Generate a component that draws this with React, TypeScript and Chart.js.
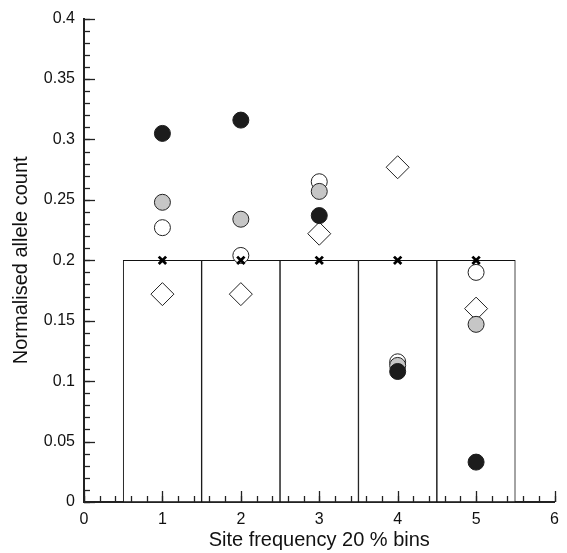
import { useEffect, useRef } from 'react';
import { Chart, registerables } from 'chart.js';

Chart.register(...registerables);

const bins = [1, 2, 3, 4, 5];
const binHeights = [0.2, 0.2, 0.2, 0.2, 0.2];
const expectedValues = [0.2, 0.2, 0.2, 0.2, 0.2];
const blackSeries = [0.305, 0.316, 0.237, 0.108, 0.033];
const greySeries = [0.248, 0.234, 0.257, 0.113, 0.147];
const openSeries = [0.227, 0.204, 0.265, 0.116, 0.19];
const diamondSeries = [0.172, 0.172, 0.222, 0.277, 0.16];
const xTickValues = [0, 1, 2, 3, 4, 5, 6];
const yTickValues = [0, 0.05, 0.1, 0.15, 0.2, 0.25, 0.3, 0.35, 0.4];
const yTickLabels = ['0', '0.05', '0.1', '0.15', '0.2', '0.25', '0.3', '0.35', '0.4'];
const xMinorStep = 0.2;
const yMinorStep = 0.01;

const toPoints = (vals: number[]) => bins.map((b, i) => ({ x: b, y: vals[i] }));

const FONT = "'Liberation Sans', Arial, Helvetica, sans-serif";
const AXIS = '#222';

const innerTicks = {
  id: 'innerTicks',
  afterDatasetsDraw(chart: any) {
    const { ctx, chartArea, scales } = chart;
    const x = scales.x;
    const y = scales.y;
    ctx.save();
    ctx.strokeStyle = AXIS;
    ctx.lineWidth = 1.3;
    const vline = (v: number, len: number) => {
      const px = Math.round(x.getPixelForValue(v)) + 0.5;
      ctx.beginPath();
      ctx.moveTo(px, chartArea.bottom);
      ctx.lineTo(px, chartArea.bottom - len);
      ctx.stroke();
    };
    const hline = (v: number, len: number) => {
      const py = Math.round(y.getPixelForValue(v)) + 0.5;
      ctx.beginPath();
      ctx.moveTo(chartArea.left, py);
      ctx.lineTo(chartArea.left + len, py);
      ctx.stroke();
    };
    const xMin = xTickValues[0];
    const xMax = xTickValues[xTickValues.length - 1];
    const nx = Math.round((xMax - xMin) / xMinorStep);
    for (let i = 0; i <= nx; i++) vline(xMin + i * xMinorStep, 6);
    xTickValues.forEach((v) => vline(v, 11));
    const yMin = yTickValues[0];
    const yMax = yTickValues[yTickValues.length - 1];
    const ny = Math.round((yMax - yMin) / yMinorStep);
    for (let i = 0; i <= ny; i++) hline(yMin + i * yMinorStep, 6);
    yTickValues.forEach((v) => hline(v, 11));
    ctx.restore();
  },
};

export default function App() {
  const ref = useRef<HTMLCanvasElement>(null);
  useEffect(() => {
    document.body.style.margin = '0';
    const canvas = ref.current;
    if (!canvas) return;
    const chart = new Chart(canvas, {
      type: 'scatter',
      data: {
        datasets: [
          {
            type: 'scatter',
            data: toPoints(expectedValues),
            pointStyle: 'crossRot',
            pointRadius: 5.2,
            borderColor: '#000',
            borderWidth: 2.8,
            order: 0,
          } as any,
          {
            type: 'scatter',
            data: toPoints(blackSeries),
            pointStyle: 'circle',
            pointRadius: 8,
            backgroundColor: '#1c1c1c',
            borderColor: '#1c1c1c',
            borderWidth: 1,
            order: 1,
          },
          {
            type: 'scatter',
            data: toPoints(greySeries),
            pointStyle: 'circle',
            pointRadius: 8,
            backgroundColor: '#c6c6c6',
            borderColor: '#222',
            borderWidth: 1,
            order: 2,
          },
          {
            type: 'scatter',
            data: toPoints(openSeries),
            pointStyle: 'circle',
            pointRadius: 8,
            backgroundColor: '#fff',
            borderColor: '#222',
            borderWidth: 1,
            order: 3,
          },
          {
            type: 'scatter',
            data: toPoints(diamondSeries),
            pointStyle: 'rectRot',
            pointRadius: 11.5,
            backgroundColor: '#fff',
            borderColor: '#222',
            borderWidth: 1,
            order: 4,
          },
          {
            type: 'bar',
            data: toPoints(binHeights),
            backgroundColor: '#fff',
            borderColor: '#111',
            borderWidth: 1,
            borderSkipped: false,
            barPercentage: 1,
            categoryPercentage: 1,
            order: 5,
          } as any,
        ],
      },
      options: {
        responsive: false,
        animation: false,
        devicePixelRatio: 1,
        layout: { padding: { top: 17, right: 10, left: 0, bottom: 0 } },
        plugins: { legend: { display: false }, tooltip: { enabled: false } },
        scales: {
          x: {
            type: 'linear',
            min: 0,
            max: 6,
            offset: false,
            afterFit: (s: any) => {
              s.height = 51;
            },
            afterBuildTicks: (s: any) => {
              s.ticks = xTickValues.map((v) => ({ value: v }));
            },
            grid: { display: false, drawTicks: false },
            border: { display: true, color: AXIS, width: 2 },
            ticks: {
              padding: 8,
              color: '#111',
              font: { family: FONT, size: 16 },
              callback: (v: any) => String(v),
            },
            title: {
              display: true,
              text: 'Site frequency 20 % bins',
              color: '#111',
              font: { family: FONT, size: 20 },
              padding: { top: 0, bottom: 1 },
            },
          },
          y: {
            type: 'linear',
            min: 0,
            max: 0.4,
            afterFit: (s: any) => {
              s.width = 84;
            },
            afterBuildTicks: (s: any) => {
              s.ticks = yTickValues.map((v) => ({ value: v }));
            },
            grid: { display: false, drawTicks: false },
            border: { display: true, color: AXIS, width: 2 },
            ticks: {
              padding: 9,
              color: '#111',
              font: { family: FONT, size: 16 },
              callback: (v: any) => {
                const i = yTickValues.findIndex((t) => Math.abs(t - v) < 1e-9);
                return i >= 0 ? yTickLabels[i] : '';
              },
            },
            title: {
              display: true,
              text: 'Normalised allele count',
              color: '#111',
              font: { family: FONT, size: 20 },
              padding: { top: 9, bottom: 0 },
            },
          },
        },
      },
      plugins: [innerTicks],
    });
    return () => chart.destroy();
  }, []);
  return <canvas ref={ref} width={567} height={553} style={{ display: 'block' }} />;
}
